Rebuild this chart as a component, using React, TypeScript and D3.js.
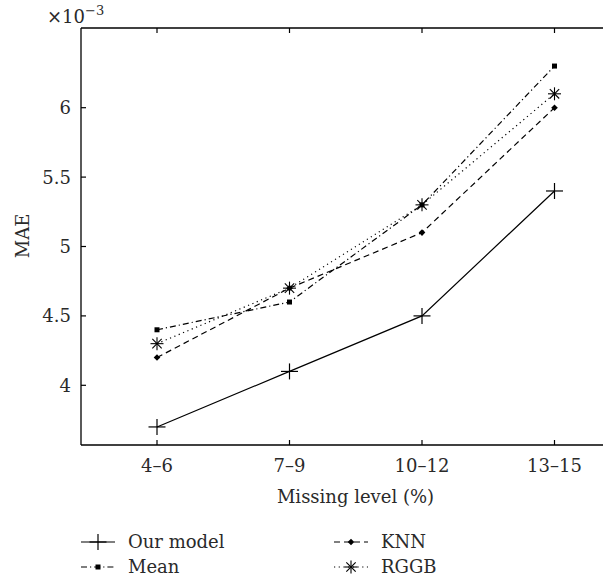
import React from "react";
import * as d3 from "d3";

const categories = ["4–6", "7–9", "10–12", "13–15"];
const ourModel = [3.7, 4.1, 4.5, 5.4];
const meanVals = [4.4, 4.6, 5.3, 6.3];
const knnVals = [4.2, 4.7, 5.1, 6.0];
const rggbVals = [4.3, 4.7, 5.3, 6.1];
const yTicks = [4, 4.5, 5, 5.5, 6];
const yTickLabels = ["4", "4.5", "5", "5.5", "6"];

const W = 603;
const H = 581;
const FONT = "DejaVu Serif";
const FS = 18;
const TXT = "#2a2a2a";

type Series = { name: string; values: number[]; dash: string; marker: string };
const series: Series[] = [
  { name: "Our model", values: ourModel, dash: "", marker: "plus" },
  { name: "Mean", values: meanVals, dash: "6,3,1.2,3", marker: "square" },
  { name: "KNN", values: knnVals, dash: "6,4", marker: "diamond" },
  { name: "RGGB", values: rggbVals, dash: "1.2,3.5", marker: "star" },
];

function Marker({ type, x, y }: { type: string; x: number; y: number }) {
  if (type === "plus") {
    return (
      <g stroke="#000" strokeWidth={1.2}>
        <line x1={x - 8.5} x2={x + 8.5} y1={y} y2={y} />
        <line x1={x} x2={x} y1={y - 8} y2={y + 8} />
      </g>
    );
  }
  if (type === "square") {
    return <rect x={x - 2.5} y={y - 2.5} width={5} height={5} fill="#000" />;
  }
  if (type === "diamond") {
    return (
      <path d={`M${x},${y - 3.3}L${x + 3.3},${y}L${x},${y + 3.3}L${x - 3.3},${y}Z`} fill="#000" />
    );
  }
  const r = 6.5;
  const d = r * 0.72;
  return (
    <g stroke="#000" strokeWidth={1.1}>
      <line x1={x - r} x2={x + r} y1={y} y2={y} />
      <line x1={x} x2={x} y1={y - r} y2={y + r} />
      <line x1={x - d} x2={x + d} y1={y - d} y2={y + d} />
      <line x1={x - d} x2={x + d} y1={y + d} y2={y - d} />
    </g>
  );
}

export default function App() {
  const left = 81;
  const top = 28;
  const bottom = 445;
  const x = d3.scaleLinear().domain([0, 3]).range([157, 554.5]);
  const right = x(3.57);
  const y = d3.scaleLinear().domain([4, 6]).range([385.3, 107.7]);
  const line = d3
    .line<number>()
    .x((_, i) => x(i))
    .y((v) => y(v));

  const legend = [
    { s: series[0], lx: 81, ly: 542 },
    { s: series[1], lx: 81, ly: 567 },
    { s: series[2], lx: 334, ly: 542 },
    { s: series[3], lx: 334, ly: 567 },
  ];

  return (
    <svg
      width={W}
      height={H}
      style={{ position: "absolute", left: 0, top: 0, background: "#fff" }}
      fontFamily={FONT}
    >
      <rect width={W} height={H} fill="#fff" />
      <g stroke="#000" strokeWidth={1.3} fill="none">
        <line x1={left} x2={left} y1={top} y2={bottom} />
        <line x1={left} x2={right} y1={bottom} y2={bottom} />
        <line x1={left} x2={right} y1={top} y2={top} />
      </g>
      {yTicks.map((t, i) => (
        <g key={t}>
          <line x1={left} x2={left + 5} y1={y(t)} y2={y(t)} stroke="#000" strokeWidth={1.2} />
          <text x={left - 10} y={y(t)} dy="0.36em" textAnchor="end" fontSize={FS} fill={TXT}>
            {yTickLabels[i]}
          </text>
        </g>
      ))}
      {categories.map((c, i) => (
        <g key={c}>
          <line x1={x(i)} x2={x(i)} y1={bottom} y2={bottom - 5} stroke="#000" strokeWidth={1.2} />
          <line x1={x(i)} x2={x(i)} y1={top} y2={top + 5} stroke="#000" strokeWidth={1.2} />
          <text x={x(i)} y={472} textAnchor="middle" fontSize={FS} fill={TXT}>
            {c}
          </text>
        </g>
      ))}
      <text x={47} y={23} fontSize={FS} fill={TXT}>
        ×10
        <tspan dy={-8} fontSize={13}>−3</tspan>
      </text>
      <text x={(left + right) / 2} y={503} textAnchor="middle" fontSize={FS} fill={TXT}>
        Missing level (%)
      </text>
      <text
        transform={`translate(29,236) rotate(-90)`}
        textAnchor="middle"
        fontSize={FS}
        fill={TXT}
      >
        MAE
      </text>
      {series.map((s) => (
        <g key={s.name}>
          <path
            d={line(s.values) || ""}
            fill="none"
            stroke="#000"
            strokeWidth={1.2}
            strokeDasharray={s.dash || undefined}
          />
          {s.values.map((v, i) => (
            <Marker key={i} type={s.marker} x={x(i)} y={y(v)} />
          ))}
        </g>
      ))}
      {legend.map(({ s, lx, ly }) => (
        <g key={s.name}>
          <line
            x1={lx}
            x2={lx + 34}
            y1={ly}
            y2={ly}
            stroke="#000"
            strokeWidth={1.2}
            strokeDasharray={s.dash || undefined}
          />
          <Marker type={s.marker} x={lx + 17} y={ly} />
          <text x={lx + 47} y={ly} dy="0.36em" fontSize={FS} fill={TXT}>
            {s.name}
          </text>
        </g>
      ))}
    </svg>
  );
}
